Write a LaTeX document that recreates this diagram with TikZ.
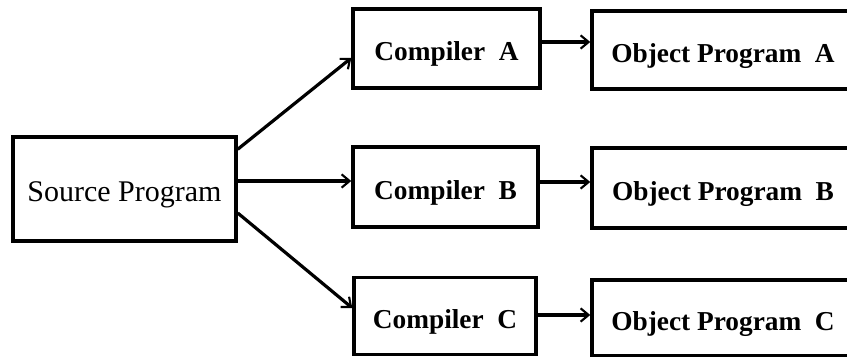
\documentclass[tikz,border=0pt]{standalone}
\usepackage{fontspec}
\setmainfont{Liberation Serif}
\usetikzlibrary{arrows.meta}
\begin{document}
\begin{tikzpicture}[x=0.75pt,y=-0.75pt,line width=2.6pt,
  box/.style={draw,rectangle,inner sep=0pt,line width=2.6pt,text height=18pt,text depth=0pt,font=\fontsize{20.5}{22}\selectfont\bfseries},
  link/.style={-{Straight Barb[length=6pt,width=10pt,line width=1.6pt]},line width=2.4pt}]
\useasboundingbox (0,0) rectangle (847,357);
\clip (0,0) rectangle (847,357);
% boxes
\node[box,minimum width=223*0.75pt,minimum height=104*0.75pt,font=\fontsize{22.5}{24}\selectfont] (src) at (124.5,189) {Source Program};
\node[box,minimum width=187*0.75pt,minimum height=79*0.75pt] (ca) at (446.5,48.5) {Compiler\enspace A};
\node[box,minimum width=185*0.75pt,minimum height=80*0.75pt] (cb) at (445.5,187) {Compiler\enspace B};
\node[box,minimum width=182*0.75pt,minimum height=77*0.75pt] (cc) at (445,316) {Compiler\enspace C};
\node[box,minimum width=262*0.75pt,minimum height=78*0.75pt] (oa) at (723,50) {Object Program\enspace A};
\node[box,minimum width=262*0.75pt,minimum height=80*0.75pt] (ob) at (723,188) {Object Program\enspace B};
\node[box,minimum width=262*0.75pt,minimum height=76*0.75pt] (oc) at (723,318) {Object Program\enspace C};
% arrows
\draw[link] (src.north east)++(0,14) -- (ca.west|-0,58);
\draw[link] (src.east|-0,181) -- (cb.west|-0,181);
\draw[link] (src.east|-0,213) -- (cc.west|-0,308);
\draw[link] (ca.east|-0,42) -- (oa.west|-0,42);
\draw[link] (cb.east|-0,182) -- (ob.west|-0,182);
\draw[link] (cc.east|-0,315) -- (oc.west|-0,315);
\end{tikzpicture}
\end{document}
